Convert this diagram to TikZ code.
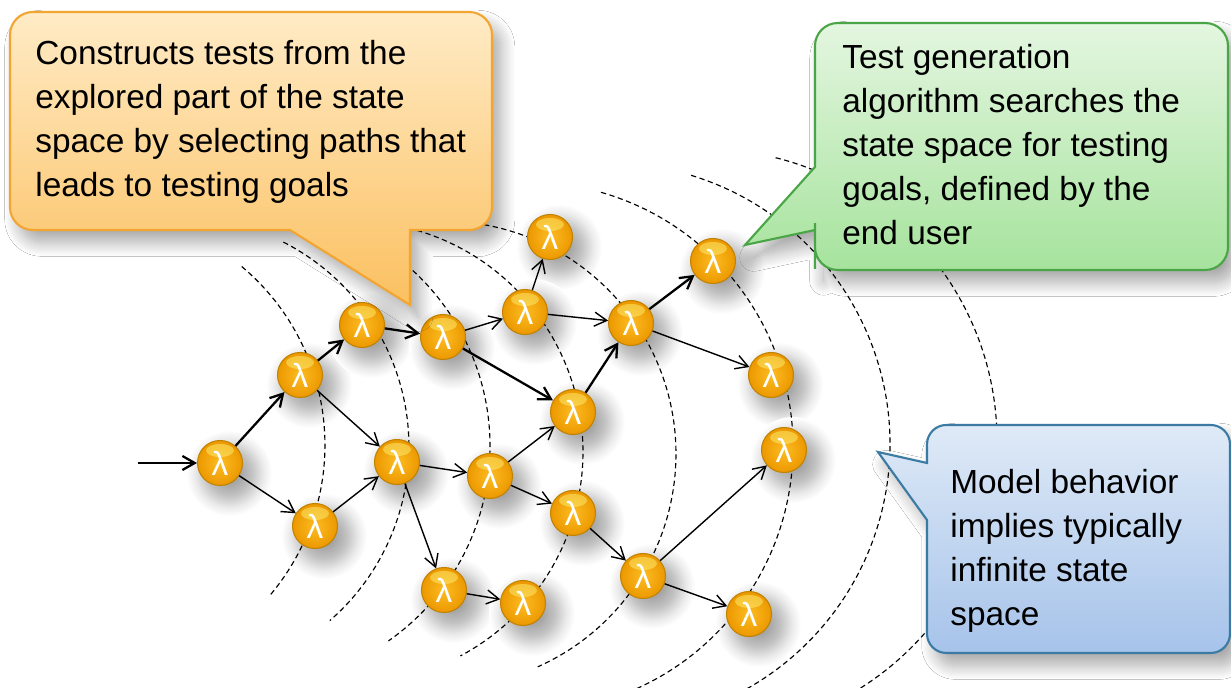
\documentclass[tikz,border=0pt]{standalone}
\usepackage{fontspec}
\setmainfont{Liberation Sans}
\usepackage{tikz}
\usetikzlibrary{positioning,arrows.meta,shadows.blur}

\definecolor{ballin}{HTML}{FDBC22}
\definecolor{ballout}{HTML}{EC9800}
\definecolor{ballrim}{HTML}{C08200}
\definecolor{notetop}{HTML}{FFEBC6}
\definecolor{notebot}{HTML}{FBC060}
\definecolor{noteline}{HTML}{F2A531}
\definecolor{goaltop}{HTML}{E4F6E0}
\definecolor{goalbot}{HTML}{A6E39D}
\definecolor{goalline}{HTML}{4AA546}
\definecolor{modeltop}{HTML}{DFEAF7}
\definecolor{modelbot}{HTML}{A6C3EA}
\definecolor{modelline}{HTML}{3A7AA3}

\pgfdeclareradialshading{halo}{\pgfpointorigin}{color(0bp)=(black!45);color(13bp)=(black!24);
  color(20bp)=(black!8);color(25bp)=(white);color(50bp)=(white)}

% state number / x / y
\def\states{1/220/463,2/300/375,3/315/526,4/362/325,5/397/462,6/443/337,7/490/476,
  8/444/590,9/523/603,10/550/237,11/525/312,12/573/412,13/573/513,14/631/323,
  15/643/576,16/713/261,17/771/375,18/784/450,19/749/614}

\begin{document}
\begin{tikzpicture}[x=0.02cm,y=-0.02cm,>={Straight Barb[length=7pt,width=8pt]},
    st/.style={circle,minimum size=0.9cm,inner sep=0pt,draw=ballrim,line width=0.6pt,
      inner color=ballin,outer color=ballout,text=white,font=\fontsize{19}{19}\selectfont,
      path picture={\fill[yellow!50!white,opacity=0.45] ([yshift=-0.2cm]path picture bounding box.north)
        ellipse[x radius=0.28cm,y radius=0.13cm];}},
    ring/.style={dash pattern=on 3pt off 2pt,line width=0.65pt},
    route/.style={line width=1.3pt},
    bubble/.style={line width=1.2pt,blur shadow={shadow xshift=5pt,shadow yshift=-7pt,
      shadow blur radius=8pt,shadow blur steps=14,shadow opacity=35}},
    says/.style={anchor=north west,inner sep=0pt,align=left,font=\fontsize{19}{25.1}\selectfont}]
  \useasboundingbox (0,0) rectangle (1231,688);
  \fill[white] (0,0) rectangle (1231,688);

  % soft shadows first, then the wave fronts, then the states
  \foreach \i/\x/\y in \states
    \shade[shading=halo] (\x+9,\y+10) circle[radius=0.86cm];

  \foreach \cx/\cy/\r/\a/\b in {92/445/4.66/50/-40,179/447/4.6/63/-49,252/446/4.76/75/-55,
      352/452/4.62/78/-62,443/454/4.66/82/-66,528/447/5.3/74/-68,609/444/5.62/73/-64,705/441/5.84/76/-62}
    \draw[ring] (\cx,\cy) ++(\a:\r cm) arc[start angle=\a,end angle=\b,radius=\r cm];

  \foreach \i/\x/\y in \states
    \node[st] (n\i) at (\x,\y) {λ};
  \coordinate (start) at (138,463);

  \draw[->,route] (start) -- (n1);
  \draw[->,route] (n1) edge (n2) (n2) edge (n4) (n4) edge (n6)
    (n6) edge (n12) (n12) edge (n14) (n14) edge (n16);
  \draw[->,line width=0.8pt] (n1) edge (n3) (n2) edge (n5) (n3) edge (n5) (n5) edge (n7)
    (n5) edge (n8) (n8) edge (n9) (n6) edge (n11) (n11) edge (n10) (n11) edge (n14)
    (n7) edge (n12) (n7) edge (n13) (n14) edge (n17) (n13) edge (n15) (n15) edge (n18)
    (n15) edge (n19);

  \path[bubble,draw=noteline,top color=notetop,bottom color=notebot]
    (250,12) [rounded corners=13pt] -- (492,12) -- (492,230) -- (450,230) [sharp corners]
    -- (410,230) -- (410,305) -- (290,230) -- (150,230) [rounded corners=13pt] -- (10,230) -- (10,12) -- cycle;
  \node[says] (build) at (35,40) {Constructs tests from the\\explored part of the state\\space by selecting paths that\\leads to testing goals};

  \path[bubble,draw=goalline,top color=goaltop,bottom color=goalbot]
    (1000,23) [rounded corners=13pt] -- (1228,23) -- (1228,270) -- (815,270) -- (815,246) [sharp corners]
    -- (815,230) -- (745,245) -- (815,167) -- (815,110) [rounded corners=13pt] -- (815,23) -- cycle;
  \node[says] (search) at (842,44) {Test generation\\algorithm searches the\\state space for testing\\goals, defined by the\\end user};

  \path[bubble,draw=modelline,top color=modeltop,bottom color=modelbot]
    (1100,425) [rounded corners=11pt] -- (1230,425) -- (1230,653) -- (927,653) -- (927,580) [sharp corners]
    -- (927,520) -- (878,452) -- (927,463) -- (927,446) [rounded corners=11pt] -- (927,425) -- cycle;
  \node[says] (model) at (950,469) {Model behavior\\implies typically\\infinite state\\space};
\end{tikzpicture}
\end{document}
